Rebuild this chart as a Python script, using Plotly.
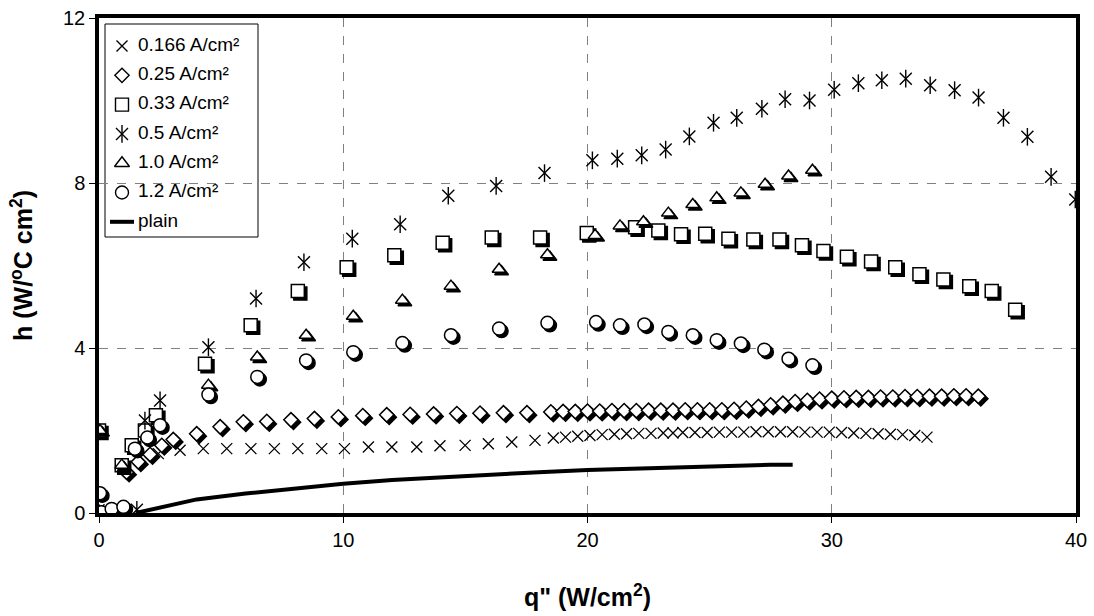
import plotly.graph_objects as go

# ---------------- data: heat transfer coefficient h vs heat flux q'' ----------------
# 0.166 A/cm2
q_0166 = [0.0, 2.43, 3.32, 4.27, 5.23, 6.22, 7.18, 8.14, 9.12, 10.05, 11.03, 11.99,
          13.01, 13.96, 14.99, 15.94, 16.9, 17.85,
          18.6, 19.1, 19.6, 20.1, 20.6, 21.1, 21.6, 22.1, 22.6, 23.1, 23.5, 23.9,
          24.4, 24.9, 25.4, 25.9, 26.4, 26.9, 27.4, 27.9, 28.4, 28.9, 29.4, 29.9,
          30.4, 30.9, 31.4, 31.9, 32.4, 32.9, 33.4, 33.9]
h_0166 = [0.08, 1.44, 1.52, 1.56, 1.56, 1.56, 1.56, 1.56, 1.56, 1.56, 1.6, 1.6,
          1.6, 1.63, 1.64, 1.68, 1.72, 1.76,
          1.82, 1.84, 1.86, 1.88, 1.9, 1.91, 1.92, 1.93, 1.93, 1.94, 1.94, 1.95,
          1.95, 1.95, 1.96, 1.96, 1.96, 1.97, 1.97, 1.97, 1.97, 1.96, 1.96, 1.96,
          1.95, 1.94, 1.93, 1.92, 1.91, 1.9, 1.88, 1.84]

# 0.25 A/cm2
q_025 = [0.0, 1.13, 1.61, 2.09, 2.57, 3.04, 4.0, 4.96, 5.91, 6.87, 7.86, 8.82,
         9.8, 10.8, 11.78, 12.74, 13.7, 14.65, 15.6, 16.56, 17.52,
         18.5, 19.0, 19.5, 20.0, 20.5, 21.0, 21.5, 22.0, 22.5, 23.0, 23.5, 24.0,
         24.5, 25.0, 25.5, 26.0, 26.5, 27.0, 27.5, 28.0, 28.5, 29.0, 29.5, 30.0,
         30.5, 31.0, 31.5, 32.0, 32.5, 33.0, 33.5, 34.0, 34.5, 35.0, 35.5, 36.0]
h_025 = [0.0, 0.99, 1.24, 1.42, 1.64, 1.78, 1.92, 2.09, 2.21, 2.22, 2.26, 2.29,
         2.33, 2.36, 2.38, 2.39, 2.4, 2.41, 2.42, 2.43, 2.43,
         2.45, 2.46, 2.46, 2.47, 2.47, 2.48, 2.48, 2.48, 2.49, 2.49, 2.49, 2.5,
         2.5, 2.5, 2.5, 2.51, 2.54, 2.58, 2.62, 2.66, 2.7, 2.73, 2.76, 2.78,
         2.79, 2.8, 2.8, 2.81, 2.81, 2.82, 2.82, 2.83, 2.83, 2.84, 2.84, 2.83]

# 0.33 A/cm2
q_033 = [0.0, 0.93, 1.34, 1.88, 2.33, 4.34, 6.21, 8.14, 10.14, 12.09, 14.07, 16.08,
         18.06, 19.97, 21.95, 22.9, 23.83, 24.82, 25.77, 26.79, 27.86, 28.78, 29.66,
         30.62, 31.61, 32.6, 33.59, 34.57, 35.63, 36.55, 37.51]
h_033 = [2.0, 1.16, 1.64, 2.0, 2.37, 3.62, 4.55, 5.38, 5.96, 6.25, 6.55, 6.68,
         6.68, 6.79, 6.93, 6.85, 6.76, 6.77, 6.65, 6.63, 6.63, 6.49, 6.35,
         6.21, 6.1, 5.96, 5.79, 5.66, 5.5, 5.38, 4.93]

# 0.5 A/cm2
q_05 = [0.0, 1.55, 1.88, 2.5, 4.48, 6.43, 8.39, 10.37, 12.33, 14.3, 16.26, 18.24,
        20.2, 21.22, 22.22, 23.2, 24.17, 25.16, 26.11, 27.14, 28.09, 29.09, 30.1,
        31.09, 32.05, 33.03, 34.03, 35.03, 36.01, 37.03, 38.01, 38.98, 39.97]
h_05 = [0.0, 0.08, 2.24, 2.73, 4.02, 5.2, 6.08, 6.65, 7.0, 7.69, 7.93, 8.24,
        8.55, 8.59, 8.67, 8.81, 9.13, 9.46, 9.58, 9.8, 10.03, 10.0, 10.26,
        10.42, 10.49, 10.53, 10.37, 10.25, 10.07, 9.58, 9.12, 8.15, 7.6]

# 1.0 A/cm2
q_10 = [0.04, 0.93, 4.48, 6.48, 8.48, 10.41, 12.42, 14.41, 16.38, 18.36, 20.31,
        21.33, 22.29, 23.31, 24.31, 25.29, 26.28, 27.27, 28.23, 29.21]
h_10 = [2.0, 1.16, 3.1, 3.78, 4.31, 4.77, 5.16, 5.5, 5.91, 6.26, 6.73,
        6.96, 7.06, 7.27, 7.48, 7.64, 7.76, 7.97, 8.17, 8.31]

# 1.2 A/cm2
q_12 = [0.04, 0.1, 0.52, 1.0, 1.47, 1.98, 2.5, 4.48, 6.48, 8.48, 10.41, 12.42,
        14.41, 16.38, 18.36, 20.35, 21.33, 22.33, 23.31, 24.31, 25.29, 26.28,
        27.24, 28.23, 29.21]
h_12 = [0.48, 0.02, 0.1, 0.15, 1.56, 1.83, 2.13, 2.87, 3.3, 3.7, 3.9, 4.12,
        4.31, 4.47, 4.61, 4.63, 4.55, 4.57, 4.39, 4.31, 4.19, 4.11,
        3.96, 3.74, 3.58]

# plain surface
q_plain = [1.5, 4.0, 6.0, 8.0, 10.0, 12.0, 14.0, 16.0, 18.0, 20.0, 22.0, 24.0,
           26.0, 27.5, 28.4]
h_plain = [0.0, 0.33, 0.47, 0.6, 0.71, 0.8, 0.87, 0.93, 0.99, 1.04, 1.08, 1.12,
           1.15, 1.17, 1.17]

legend_labels = ["0.166 A/cm²", "0.25 A/cm²", "0.33 A/cm²", "0.5 A/cm²",
                 "1.0 A/cm²", "1.2 A/cm²", "plain"]

# ---------------- layout geometry ----------------
W, H = 1094, 616
M_L, M_R, M_T, M_B = 99, 18, 18, 103
X_RANGE = [0, 40]
Y_RANGE = [0, 12]
PLOT_W = W - M_L - M_R
PLOT_H = H - M_T - M_B
SHADOW_PX = 2.5
dx = SHADOW_PX * (X_RANGE[1] - X_RANGE[0]) / PLOT_W
dy = SHADOW_PX * (Y_RANGE[1] - Y_RANGE[0]) / PLOT_H

FONT = "Arial, Liberation Sans, sans-serif"

fig = go.Figure()


def shadowed(qs, hs, symbol, size):
    """Open marker with a solid black drop shadow offset down-right."""
    fig.add_trace(go.Scatter(
        x=[v + dx for v in qs], y=[v - dy for v in hs], mode="markers",
        marker=dict(symbol=symbol, size=size, color="black",
                    line=dict(color="black", width=1.5)),
        showlegend=False, hoverinfo="skip"))
    fig.add_trace(go.Scatter(
        x=qs, y=hs, mode="markers",
        marker=dict(symbol=symbol, size=size, color="white",
                    line=dict(color="black", width=1.5)),
        showlegend=False))


def star6(qs, hs, size):
    """Six-armed star: diagonal cross plus a vertical bar."""
    for sym, sz in (("x-thin-open", size), ("line-ns-open", size * 1.05)):
        fig.add_trace(go.Scatter(
            x=qs, y=hs, mode="markers",
            marker=dict(symbol=sym, size=sz, color="black",
                        line=dict(color="black", width=1.4)),
            showlegend=False))


# plain curve
fig.add_trace(go.Scatter(x=q_plain, y=h_plain, mode="lines",
                         line=dict(color="black", width=4), showlegend=False))

# 0.166 A/cm2 : crosses
fig.add_trace(go.Scatter(
    x=q_0166, y=h_0166, mode="markers",
    marker=dict(symbol="x-thin-open", size=11, color="black",
                line=dict(color="black", width=1.3)),
    showlegend=False))
shadowed(q_025, h_025, "diamond", 11)
shadowed(q_033, h_033, "square", 13)
star6(q_05, h_05, 12)
shadowed(q_10, h_10, "triangle-up", 12)
shadowed(q_12, h_12, "circle", 13)

# ---------------- legend box (drawn on a pixel-scaled overlay axis) ----------------
LEG_BOX = dict(x0=105, x1=258, y0=24, y1=237)   # page pixels
LEG_ROWS = [46, 75.3, 104.6, 133.9, 163.2, 192.5, 221.8]
LEG_MARK_X = 122
LEG_TEXT_X = 138

fig.add_shape(type="rect", xref="paper", yref="paper", layer="between",
              x0=(LEG_BOX["x0"] - M_L) / PLOT_W, x1=(LEG_BOX["x1"] - M_L) / PLOT_W,
              y0=(H - M_B - LEG_BOX["y1"]) / PLOT_H, y1=(H - M_B - LEG_BOX["y0"]) / PLOT_H,
              fillcolor="white", line=dict(color="black", width=1))

leg_styles = [("x-thin-open", 11), ("diamond-open", 11), ("square-open", 13),
              ("star", 12), ("triangle-up-open", 13), ("circle-open", 13), ("line", 0)]
for (sym, sz), row in zip(leg_styles, LEG_ROWS):
    if sym == "line":
        fig.add_trace(go.Scatter(x=[LEG_MARK_X - 12, LEG_MARK_X + 12], y=[row, row],
                                 mode="lines", line=dict(color="black", width=4),
                                 xaxis="x2", yaxis="y2", showlegend=False, hoverinfo="skip"))
    elif sym == "star":
        for s2, k in (("x-thin-open", 1.0), ("line-ns-open", 1.05)):
            fig.add_trace(go.Scatter(x=[LEG_MARK_X], y=[row], mode="markers",
                                     marker=dict(symbol=s2, size=sz * k, color="black",
                                                 line=dict(color="black", width=1.4)),
                                     xaxis="x2", yaxis="y2", showlegend=False, hoverinfo="skip"))
    else:
        fig.add_trace(go.Scatter(x=[LEG_MARK_X], y=[row], mode="markers",
                                 marker=dict(symbol=sym, size=sz, color="black",
                                             line=dict(color="black", width=1.4)),
                                 xaxis="x2", yaxis="y2", showlegend=False, hoverinfo="skip"))

# legend labels as a text trace
fig.add_trace(go.Scatter(x=[LEG_TEXT_X] * len(legend_labels), y=LEG_ROWS,
                         mode="text", text=legend_labels, textposition="middle right",
                         textfont=dict(family=FONT, size=19, color="black"),
                         xaxis="x2", yaxis="y2", showlegend=False, hoverinfo="skip",
                         cliponaxis=False))

axis_common = dict(
    showline=True, linecolor="black", linewidth=3.5, mirror=True,
    showgrid=True, gridcolor="#808080", gridwidth=1, griddash="dash",
    zeroline=False, ticks="outside", ticklen=6, tickcolor="black", tickwidth=1,
    tickfont=dict(family=FONT, size=20, color="black"), automargin=False,
)

fig.update_layout(
    width=W, height=H,
    margin=dict(l=M_L, r=M_R, t=M_T, b=M_B, pad=0, autoexpand=False),
    paper_bgcolor="white", plot_bgcolor="white",
    font=dict(family=FONT, color="black"),
    xaxis=dict(range=X_RANGE, dtick=10, tick0=0,
               title=dict(text="<b>q\" (W/cm<sup>2</sup>)</b>", standoff=40,
                          font=dict(family=FONT, size=25, color="black")),
               **axis_common),
    yaxis=dict(range=Y_RANGE, dtick=4, tick0=0,
               title=dict(text="<b>h (W/<sup>o</sup>C cm<sup>2</sup>)</b>", standoff=24,
                          font=dict(family=FONT, size=25, color="black")),
               **axis_common),
    xaxis2=dict(range=[M_L, W - M_R], overlaying="x", visible=False, fixedrange=True),
    yaxis2=dict(range=[H - M_B, M_T], overlaying="y", visible=False, fixedrange=True),
    showlegend=False,
)

fig.write_html("out.html")
